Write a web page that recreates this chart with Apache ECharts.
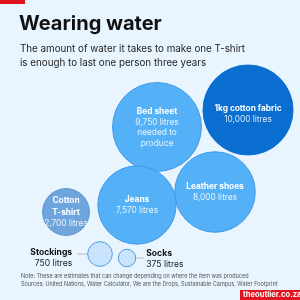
<!DOCTYPE html>
<html>
<head>
<meta charset="utf-8">
<script src="https://cdn.jsdelivr.net/npm/echarts@6/dist/echarts.min.js"></script>
<style>
  html, body { margin: 0; padding: 0; background: #e8f4fe; }
  #chart { width: 300px; height: 300px; }
</style>
</head>
<body>
<div id="chart"></div>
<script>
// 数据
const items = ['1kg cotton fabric', 'Bed sheet', 'Leather shoes', 'Jeans', 'Cotton\nT-shirt', 'Stockings', 'Socks']
const litres = [10000, 9750, 8000, 7570, 2700, 750, 375]
const valueText = ['10,000 litres', '9,750 litres\nneeded to\nproduce', '8,000 litres', '7,570 litres', '2,700 litres', '750 litres', '375 litres']

// 布局 (气泡中心, 像素坐标系)
const bubbleX = [248, 157, 215, 137, 66, 100, 127]
const bubbleY = [110, 127, 192, 205, 212, 254, 258]

const fills = ['#0a6dd0', '#55b1f7', '#55b1f7', '#55b1f7', '#6fa5dd', '#c9e4fc', '#c9e4fc']
const borders = ['#0a6dd0', '#3f98ea', '#3f98ea', '#3f98ea', '#5b93d3', '#4b9ee9', '#4b9ee9']

const chart = echarts.init(document.getElementById('chart'))
const font = 'Inter, "Noto Sans", sans-serif'

const wrap = (tag, s) => '{' + tag + '|' + s.split('\n').join('}\n{' + tag + '|') + '}'

const data = items.map((name, i) => {
  const small = i >= 5
  return {
    name: name,
    value: [bubbleX[i], bubbleY[i], litres[i]],
    itemStyle: { color: fills[i], borderColor: borders[i], borderWidth: 1, opacity: 1 },
    label: small ? {
      show: true,
      position: i === 5 ? 'left' : 'right',
      distance: i === 5 ? 15 : 10,
      formatter: wrap('n', name) + '\n' + wrap('v', valueText[i]),
      rich: {
        n: { fontFamily: font, fontSize: 8.6, fontWeight: 'bold', color: '#111', lineHeight: 10.5, align: i === 5 ? 'right' : 'left' },
        v: { fontFamily: font, fontSize: 8.6, color: '#222', lineHeight: 10.5, align: i === 5 ? 'right' : 'left' }
      },
      offset: i === 6 ? [0, 1] : [0, 4]
    } : {
      show: true,
      position: 'inside',
      offset: i === 0 ? [0, 4] : [0, 0],
      formatter: wrap('n', name) + '\n' + wrap('v', valueText[i]),
      rich: {
        n: { fontFamily: font, fontSize: 8.3, fontWeight: 'bold', color: '#fff', lineHeight: 12, align: 'center' },
        v: { fontFamily: font, fontSize: 8.3, color: 'rgba(255,255,255,0.85)', lineHeight: 10.5, align: 'center' }
      }
    }
  }
})

chart.setOption({
  backgroundColor: '#e8f4fe',
  animation: false,
  grid: { left: 0, right: 0, top: 0, bottom: 0 },
  xAxis: { type: 'value', min: 0, max: 300, show: false },
  yAxis: { type: 'value', min: 0, max: 300, inverse: true, show: false },
  graphic: [
    { type: 'rect', shape: { x: 0, y: 0, width: 25, height: 4 }, style: { fill: '#e0141e' } },
    { type: 'text', left: 19, top: 14, style: { text: 'Wearing water', fontFamily: font, fontSize: 20, fontWeight: 'bold', fill: '#111' } },
    { type: 'text', left: 20, top: 42, style: { text: 'The amount of water it takes to make one T-shirt\nis enough to last one person three years', fontFamily: font, fontSize: 9.8, lineHeight: 14, fill: '#222' } },
    // 连接线
    { type: 'line', shape: { x1: 77, y1: 254, x2: 88, y2: 254 }, style: { stroke: '#bbb', lineWidth: 1 } },
    { type: 'line', shape: { x1: 136, y1: 258, x2: 144, y2: 258 }, style: { stroke: '#bbb', lineWidth: 1 } },
    { type: 'text', left: 21, top: 272, style: { text: 'Note: These are estimates that can change depending on where the item was produced\nSources: United Nations, Water Calculator, We are the Drops, Sustainable Campus, Water Footprint', fontFamily: font, fontSize: 5.5, lineHeight: 8, fill: '#555' } },
    { type: 'rect', shape: { x: 240, y: 290, width: 60, height: 10 }, style: { fill: '#e0141e' } },
    { type: 'text', left: 243, top: 291, style: { text: 'theoutlier.co.za', fontFamily: font, fontSize: 7.6, fontWeight: 'bold', fill: '#fff' } }
  ],
  series: [
    {
      type: 'scatter',
      symbolSize: v => 0.9 * Math.sqrt(v[2]),
      emphasis: { disabled: true },
      data: data
    }
  ]
})
</script>
</body>
</html>
